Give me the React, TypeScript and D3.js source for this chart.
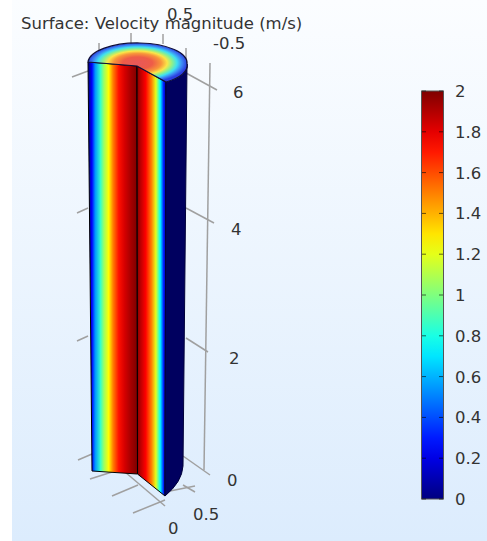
import React from "react";
import * as d3 from "d3";

// jet colormap
const jetValues = [0, 0.25, 0.75, 1.0, 1.25, 1.75, 2];
const jetColors = ["#00007f", "#0000ff", "#00ffff", "#7fff7f", "#ffff00", "#ff0000", "#7f0000"];

const barTicks = [0, 0.2, 0.4, 0.6, 0.8, 1, 1.2, 1.4, 1.6, 1.8, 2];
const zTicks = [0, 2, 4, 6];
const zPixels = [480, 358, 229, 92];

// velocity read across each visible face, left to right
const leftFacePos = [0, 0.06, 0.13, 0.24, 0.31, 0.41, 0.5, 0.62, 0.74, 0.88, 1];
const leftFaceVal = [0.05, 0.25, 0.55, 0.85, 1.05, 1.25, 1.5, 1.72, 1.83, 1.93, 2];
const wallPos = [0, 0.1, 0.3, 0.5, 0.65, 0.8, 0.92, 1];
const wallVal = [2, 1.9, 1.75, 1.5, 1.2, 0.75, 0.3, 0.1];
// top cap, centre to rim
const capPos = [0, 0.3, 0.48, 0.6, 0.7, 0.8, 0.9, 1];
const capColors = ["#e8585a", "#ee5c48", "#f8963a", "#fbe648", "#8ff08a", "#3fe0f0", "#3c88f4", "#2c3fe0"];

// grey 3D box ticks: [x1, y1, x2, y2]
const leftTicks: number[][] = [[72, 77, 88, 71], [77, 213, 88, 208], [77, 341, 88, 336], [78, 460, 92, 454]];
const rightTicks: number[][] = [[186, 73, 217, 90], [186, 208, 214, 223], [186, 338, 208, 352], [183, 456, 210, 475]];
const topTicks: number[][] = [[99, 43, 99, 50], [131, 33, 131, 44], [163, 34, 163, 44], [186, 48, 186, 60]];
const floorLines: number[][] = [
  [90, 479, 112, 472], [112, 496, 138, 485], [133, 513, 165, 500], [125, 472, 165, 506],
  [183, 485, 195, 492], [165, 492, 195, 486],
];
const wallLine = [210, 63, 204, 470];

const App = () => {
  const jet = d3.scaleLinear<string>().domain(jetValues).range(jetColors);
  const barY = d3.scaleLinear().domain([0, 2]).range([499, 91]);
  const zY = d3.scaleLinear().domain(zTicks).range(zPixels);
  const grey = "#a0a0a0";
  const textCol = "#333";
  const barStops = d3.range(0, 2.01, 0.1);

  const capPath = "M88,62 L137,66 L166,82 A49.5,20 0 0 0 187,64 A49.5,20 0 0 0 88,62 Z";
  const leftFace = "M88,62 L137,66 L137.5,474 L92,471 Z";
  const wallFace = "M137,66 L166,82 L165,496 L137.5,474 Z";
  const sideFace = "M166,82 A49.5,20 0 0 0 187,64 L183,466 Q182,482 165,496 Z";

  return (
    <svg
      width={487}
      height={541}
      style={{ position: "absolute", left: 0, top: 0, fontFamily: "DejaVu Sans", fontSize: 16.5 }}
    >
      <defs>
        <linearGradient id="bg" x1="0" y1="0" x2="0" y2="1">
          <stop offset="0" stopColor="#fbfdff" />
          <stop offset="1" stopColor="#dcecfd" />
        </linearGradient>
        <linearGradient id="bar" x1="0" y1="1" x2="0" y2="0">
          {barStops.map((v) => (
            <stop key={v} offset={v / 2} stopColor={jet(v)} />
          ))}
        </linearGradient>
        <linearGradient id="leftFace" gradientUnits="userSpaceOnUse" x1="89" y1="0" x2="137" y2="0">
          {leftFacePos.map((p, i) => (
            <stop key={p} offset={p} stopColor={jet(leftFaceVal[i])} />
          ))}
        </linearGradient>
        <linearGradient id="wallFace" gradientUnits="userSpaceOnUse" x1="137" y1="0" x2="166" y2="0">
          {wallPos.map((p, i) => (
            <stop key={p} offset={p} stopColor={jet(wallVal[i])} />
          ))}
        </linearGradient>
        <radialGradient
          id="cap"
          gradientUnits="userSpaceOnUse"
          cx="0"
          cy="0"
          r="1"
          gradientTransform="translate(137.5,63) scale(49.5,20)"
        >
          {capPos.map((p, i) => (
            <stop key={p} offset={p} stopColor={capColors[i]} />
          ))}
        </radialGradient>
      </defs>

      <rect x={12} y={0} width={475} height={541} fill="url(#bg)" />

      {/* box lines behind the cylinder */}
      <g stroke={grey} strokeWidth={1.5} fill="none">
        {[...leftTicks, ...rightTicks, ...topTicks, ...floorLines].map((d, i) => (
          <line key={i} x1={d[0]} y1={d[1]} x2={d[2]} y2={d[3]} />
        ))}
        <line x1={wallLine[0]} y1={wallLine[1]} x2={wallLine[2]} y2={wallLine[3]} />
      </g>

      {/* cylinder */}
      <path d={leftFace} fill="url(#leftFace)" stroke="#000" strokeWidth={1} />
      <path d={wallFace} fill="url(#wallFace)" stroke="#000" strokeWidth={1} />
      <path d={sideFace} fill="#00005f" stroke="#00003a" strokeWidth={1} />
      <path d={capPath} fill="url(#cap)" stroke="#10103a" strokeWidth={1.2} />

      {/* axis labels */}
      <g fill={textCol}>
        <text x={21} y={29}>Surface: Velocity magnitude (m/s)</text>
        <text x={167} y={20}>0.5</text>
        <text x={213} y={49}>-0.5</text>
        {zTicks.map((t, i) => (
          <text key={t} x={227 + i * 2} y={zY(t) + 6}>{t}</text>
        ))}
        <text x={193} y={520}>0.5</text>
        <text x={168} y={534}>0</text>
      </g>

      {/* colorbar */}
      <rect x={421.5} y={barY(2)} width={22} height={barY(0) - barY(2)} fill="url(#bar)" stroke="#555" strokeWidth={1} />
      {barTicks.map((t) => (
        <g key={t} stroke="#000" strokeOpacity={0.6}>
          <line x1={422} x2={426} y1={barY(t)} y2={barY(t)} />
          <line x1={439} x2={443} y1={barY(t)} y2={barY(t)} />
        </g>
      ))}
      {barTicks.map((t) => (
        <text key={t} x={455} y={barY(t) + 6} fill={textCol}>{t}</text>
      ))}
    </svg>
  );
};

export default App;
